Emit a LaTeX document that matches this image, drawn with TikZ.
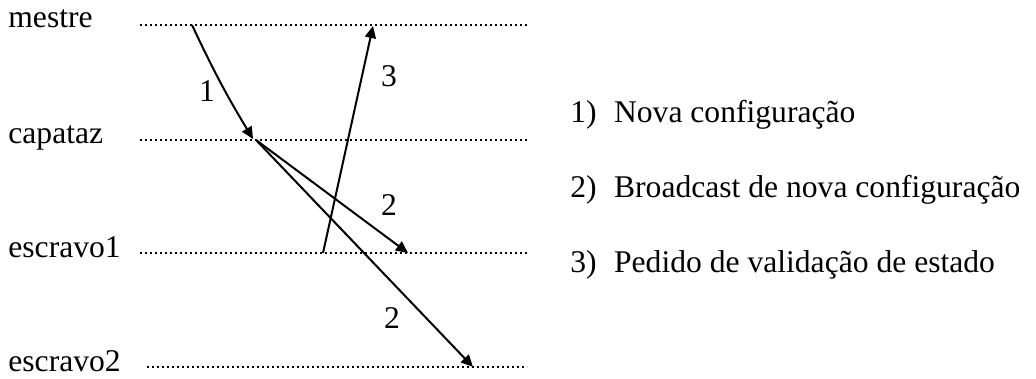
\documentclass[tikz,border=0pt]{standalone}
\usepackage{fontspec}
\setmainfont{Liberation Serif}
\usetikzlibrary{arrows.meta}
\begin{document}
\begin{tikzpicture}[x=0.5pt,y=-0.5pt,
  lbl/.style={anchor=base west,inner sep=0pt,font=\fontsize{15.8pt}{18pt}\selectfont},
  num/.style={inner sep=0pt,font=\fontsize{15.8pt}{18pt}\selectfont},
  lane/.style={line width=0.9pt,dash pattern=on 0.9pt off 1.6pt},
  msg/.style={line width=1pt,-{Triangle[length=6pt,width=5.5pt]}}]
\useasboundingbox (0,0) rectangle (1036,379);
% lanes
\node[lbl] (lm) at (8,28) {mestre};
\node[lbl] (lc) at (8,144) {capataz};
\node[lbl] (le1) at (8,257) {escravo1};
\node[lbl] (le2) at (8,371) {escravo2};
\coordinate (m0) at (140,25);  \coordinate (m1) at (527,25);
\coordinate (c0) at (140,140); \coordinate (c1) at (527,140);
\coordinate (e0) at (140,253); \coordinate (e1) at (527,253);
\coordinate (f0) at (147,367); \coordinate (f1) at (527,367);
\draw[lane] (m0) -- (m1);
\draw[lane] (c0) -- (c1);
\draw[lane] (e0) -- (e1);
\draw[lane] (f0) -- (f1);
% message points
\coordinate (a1) at (192,25);
\coordinate (b1) at (253,139);
\coordinate (b2) at (256,140);
\coordinate (t2a) at (408,253);
\coordinate (t2b) at (473,367);
\coordinate (s3) at (323,253);
\coordinate (t3) at (373,26);
\draw[msg] (a1) to[bend right=3] (b1);
\draw[msg] (b2) -- (t2a);
\draw[msg] (b2) -- (t2b);
\draw[msg] (s3) -- (t3);
% message labels
\node[num] (n1) at (207,91) {1};
\node[num] (n3) at (389,76) {3};
\node[num] (n2a) at (389,205) {2};
\node[num] (n2b) at (392,318) {2};
% legend
\node[lbl] (k1) at (570,123) {1)\hspace{0.55em}Nova configuração};
\node[lbl] (k2) at (570,198) {2)\hspace{0.55em}Broadcast de nova configuração};
\node[lbl] (k3) at (570,272) {3)\hspace{0.55em}Pedido de validação de estado};
\end{tikzpicture}
\end{document}
